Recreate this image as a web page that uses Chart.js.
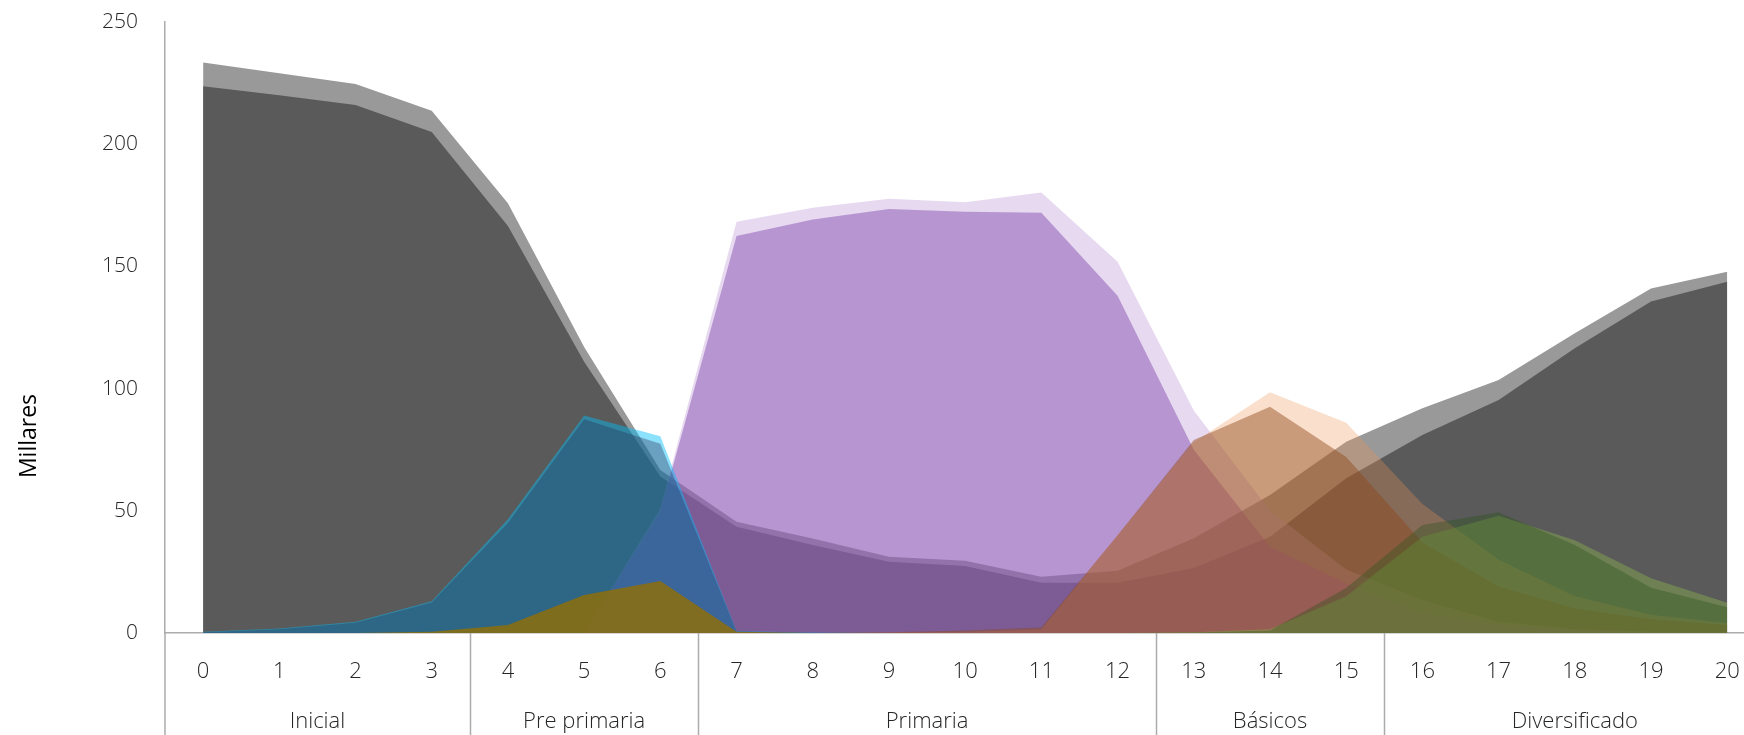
<!DOCTYPE html>
<html>
<head>
<meta charset="utf-8">
<script src="https://cdn.jsdelivr.net/npm/chart.js@4/dist/chart.umd.min.js"></script>
<style>
  html, body { margin: 0; padding: 0; background: #fff; }
  #wrap { width: 1744px; height: 735px; position: relative; }
</style>
</head>
<body>
<div id="wrap"><canvas id="chart"></canvas></div>
<script>
// ages (x categories)
const ages = [0, 1, 2, 3, 4, 5, 6, 7, 8, 9, 10, 11, 12, 13, 14, 15, 16, 17, 18, 19, 20];

// education levels under the ages
const groups = ["Inicial", "Pre primaria", "Primaria", "Básicos", "Diversificado"];
const groupStart = [0, 4, 7, 13, 16];
const groupEnd = [3, 6, 12, 15, 20];

// y ticks (miles)
const yTicks = [0, 50, 100, 150, 200, 250];

// series values (thousands), back to front
const greyLight = [233.4, 229, 224.6, 213.7, 175.8, 117, 66.7, 45.5, 38.7, 31.2, 29.6, 23, 25.5, 38.8, 56.5, 78.3, 92, 103.5, 122.6, 141, 147.8];
const greyDark = [223.7, 220, 216, 205, 166.5, 111, 64, 43.5, 36, 29.2, 27.4, 20.6, 20.6, 26.6, 39.4, 63.3, 81, 95.3, 116.5, 135.6, 143.7];
const purpleLight = [0, 0, 0, 0, 0, 0, 51, 168.3, 174, 177.7, 176.2, 180.2, 151.9, 91, 50, 26, 13.5, 4.5, 1.5, 0.5, 0.3];
const purpleDark = [0, 0, 0, 0, 0, 0, 49.6, 162.4, 169.2, 173.5, 172.4, 172, 138, 75, 35.3, 20.3, 8, 3.4, 1.2, 0.4, 0.2];
const cyanLight = [0.5, 1.8, 4.6, 13, 46.5, 89, 80.5, 0.8, 0.2, 0, 0, 0, 0, 0, 0, 0, 0, 0, 0, 0, 0];
const blueDark = [0.3, 1.5, 4.2, 12.5, 45, 87.5, 77.4, 0.6, 0.1, 0, 0, 0, 0, 0, 0, 0, 0, 0, 0, 0, 0];
const olive = [0, 0, 0, 0.5, 3.3, 15.5, 21.3, 0.5, 0, 0, 0, 0, 0, 0, 0, 0, 0, 0, 0, 0, 0];
const peach = [0, 0, 0, 0, 0, 0, 0, 0, 0, 0.2, 0.5, 1.5, 40, 78, 98.5, 86, 52.8, 30, 15, 7.5, 4];
const brown = [0, 0, 0, 0, 0, 0, 0, 0, 0, 0.3, 1, 2.2, 40, 79, 92.6, 72, 37, 19, 10, 5.6, 3.3];
const greenLight = [0, 0, 0, 0, 0, 0, 0, 0, 0, 0, 0, 0, 0, 0.3, 1.5, 15, 39.4, 48, 38, 22.4, 12.4];
const greenDark = [0, 0, 0, 0, 0, 0, 0, 0, 0, 0, 0, 0, 0, 0.2, 1, 18.4, 44.2, 49.4, 36, 18.5, 10.5];

const series = [
    { values: greyLight, color: "rgb(153,153,153)" },
    { values: greyDark, color: "rgb(90,90,90)" },
    { values: purpleLight, color: "rgba(184,146,212,0.35)" },
    { values: purpleDark, color: "rgba(129,70,169,0.46)" },
    { values: cyanLight, color: "rgba(0,190,250,0.45)" },
    { values: blueDark, color: "rgba(43,40,79,0.35)" },
    { values: olive, color: "rgba(141,111,12,0.85)" },
    { values: peach, color: "rgba(240,150,90,0.3)" },
    { values: brown, color: "rgba(141,73,24,0.45)" },
    { values: greenLight, color: "rgba(140,185,75,0.4)" },
    { values: greenDark, color: "rgba(45,85,30,0.38)" },
];

const axisColor = "#acacac";
const textColor = "#262626";
const tickFont = { family: "'Open Sans', sans-serif", size: 21, weight: 300 };

// group labels, separators and the axis title
const decor = {
    id: "decor",
    afterDraw(chart) {
        const { ctx, chartArea } = chart;
        const x = chart.scales.x;
        ctx.save();
        ctx.strokeStyle = axisColor;
        ctx.lineWidth = 1.5;
        ctx.beginPath();
        ctx.moveTo(chartArea.left, chartArea.bottom);
        ctx.lineTo(chartArea.left, chart.height);
        groupStart.slice(1).forEach(function (s) {
            const px = Math.round(x.getPixelForValue(s - 0.5)) + 0.5;
            ctx.moveTo(px, chartArea.bottom);
            ctx.lineTo(px, chart.height);
        });
        ctx.stroke();

        ctx.fillStyle = textColor;
        ctx.font = "300 22px 'Open Sans', sans-serif";
        ctx.textAlign = "center";
        ctx.textBaseline = "middle";
        groups.forEach(function (g, i) {
            const px = x.getPixelForValue((groupStart[i] + groupEnd[i]) / 2);
            ctx.fillText(g, px, chartArea.bottom + 89);
        });

        ctx.fillStyle = "#000";
        ctx.font = "500 23px 'Open Sans', sans-serif";
        ctx.translate(29, 436);
        ctx.rotate(-Math.PI / 2);
        ctx.fillText("Millares", 0, 0);
        ctx.restore();
    },
};

new Chart(document.getElementById("chart"), {
    type: "line",
    data: {
        datasets: series.map(function (s, i) {
            return {
                data: ages.map((a, j) => ({ x: a, y: s.values[j] })),
                backgroundColor: s.color,
                borderColor: "transparent",
                borderWidth: 0,
                pointRadius: 0,
                tension: 0,
                fill: "origin",
                order: -i,
            };
        }),
    },
    options: {
        responsive: true,
        maintainAspectRatio: false,
        animation: false,
        devicePixelRatio: 1,
        layout: { padding: { top: 22, left: 0, right: 0, bottom: 0 } },
        plugins: {
            legend: { display: false },
            tooltip: { enabled: false },
        },
        scales: {
            x: {
                type: "linear",
                min: -0.5,
                max: 20.22,
                afterBuildTicks: function (scale) {
                    scale.ticks = ages.map((v) => ({ value: v }));
                },
                afterFit: function (scale) {
                    scale.height = 102;
                    scale.paddingLeft = 0;
                    scale.paddingRight = 0;
                },
                grid: { display: true, drawOnChartArea: false, drawTicks: false },
                border: { color: axisColor, width: 1.5 },
                ticks: {
                    autoSkip: false,
                    maxRotation: 0,
                    padding: 26,
                    color: textColor,
                    font: { family: "'Open Sans', sans-serif", size: 22, weight: 300 },
                },
            },
            y: {
                min: 0,
                max: 250,
                afterBuildTicks: function (scale) {
                    scale.ticks = yTicks.map((v) => ({ value: v }));
                },
                afterFit: function (scale) {
                    scale.width = 165;
                    scale.paddingTop = 0;
                    scale.paddingBottom = 0;
                },
                grid: { display: true, drawOnChartArea: false, drawTicks: false },
                border: { color: axisColor, width: 1.5 },
                ticks: {
                    padding: 27,
                    color: textColor,
                    font: tickFont,
                },
            },
        },
    },
    plugins: [decor],
});
</script>
</body>
</html>
